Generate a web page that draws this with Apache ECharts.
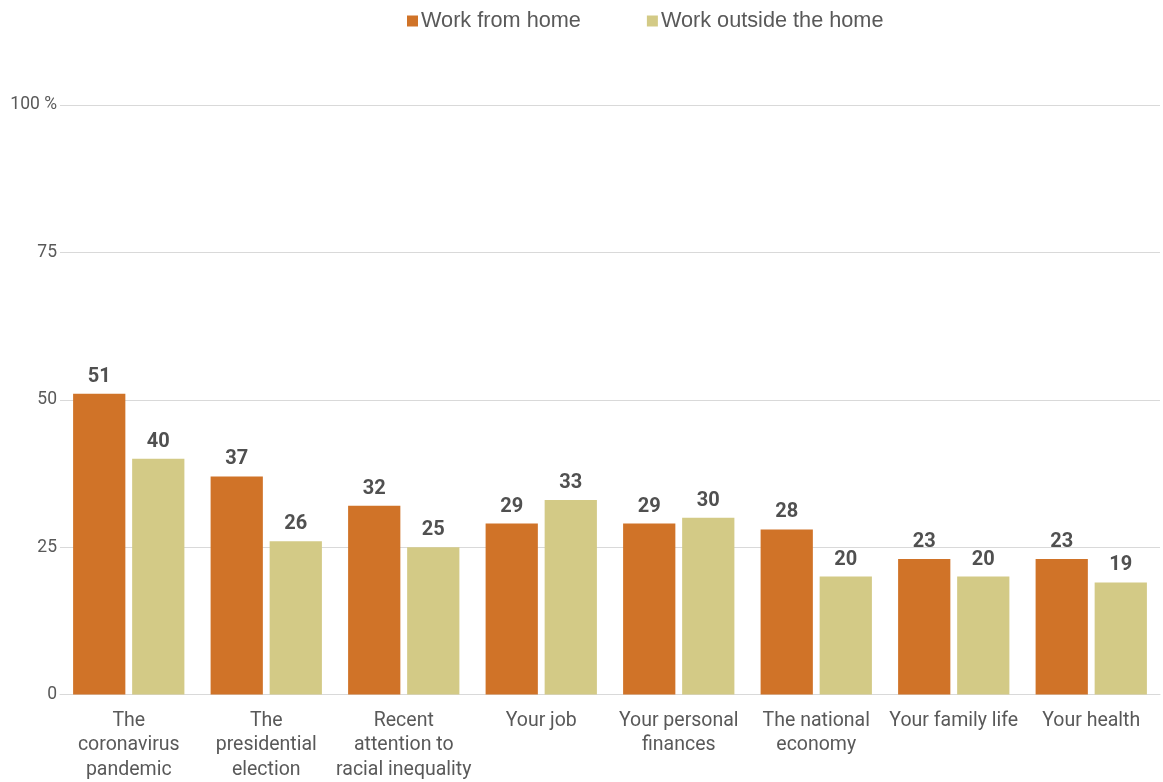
<!DOCTYPE html>
<html><head><meta charset="utf-8">
<script src="https://cdn.jsdelivr.net/npm/echarts@6/dist/echarts.min.js"></script>
<style>html,body{margin:0;padding:0;background:#fff}#c{width:1163px;height:782px}</style>
</head><body><div id="c"></div>
<script>
const categories = ["The\ncoronavirus\npandemic","The\npresidential\nelection","Recent\nattention to\nracial inequality","Your job","Your personal\nfinances","The national\neconomy","Your family life","Your health"];
const workFromHome = [51,37,32,29,29,28,23,23];
const workOutside = [40,26,25,33,30,20,20,19];
const seriesNames = ["Work from home","Work outside the home"];
const yTicks = [0,25,50,75,100];

const chart = echarts.init(document.getElementById('c'), null, {renderer:'canvas'});
const lbl = {show:true, position:'top', distance:7, color:'#505050', fontFamily:'Roboto', fontWeight:'bold', fontSize:20};
chart.setOption({
  animation:false,
  legend:{top:5, left:402, itemWidth:11, itemHeight:11, itemGap:66, icon:'rect',
    textStyle:{fontFamily:'Liberation Sans', fontSize:21.7, color:'#595959', padding:[0,0,0,-2]}},
  grid:{left:60, right:3, top:105, bottom:84, containLabel:false},
  xAxis:{type:'category', data:categories,
    axisLine:{lineStyle:{color:'#d9d9d9', width:1}}, axisTick:{show:false},
    axisLabel:{interval:0, margin:14, fontFamily:'Roboto', fontSize:19.5, color:'#595959', lineHeight:24.5}},
  yAxis:{type:'value', min:0, max:100, interval:25,
    axisLine:{show:false}, axisTick:{show:false},
    splitLine:{lineStyle:{color:'#d9d9d9', width:1}},
    axisLabel:{margin:3, fontFamily:'Roboto', fontSize:17.5, color:'#595959',
      formatter:v => v===yTicks[yTicks.length-1] ? v+' %' : String(v)}},
  series:[
    {name:seriesNames[0], type:'bar', data:workFromHome, barWidth:'38%', barGap:'13%',
     itemStyle:{color:'#D07328'}, label:lbl},
    {name:seriesNames[1], type:'bar', data:workOutside, barWidth:'38%',
     itemStyle:{color:'#D3CA86'}, label:lbl}
  ]
});
</script></body></html>
